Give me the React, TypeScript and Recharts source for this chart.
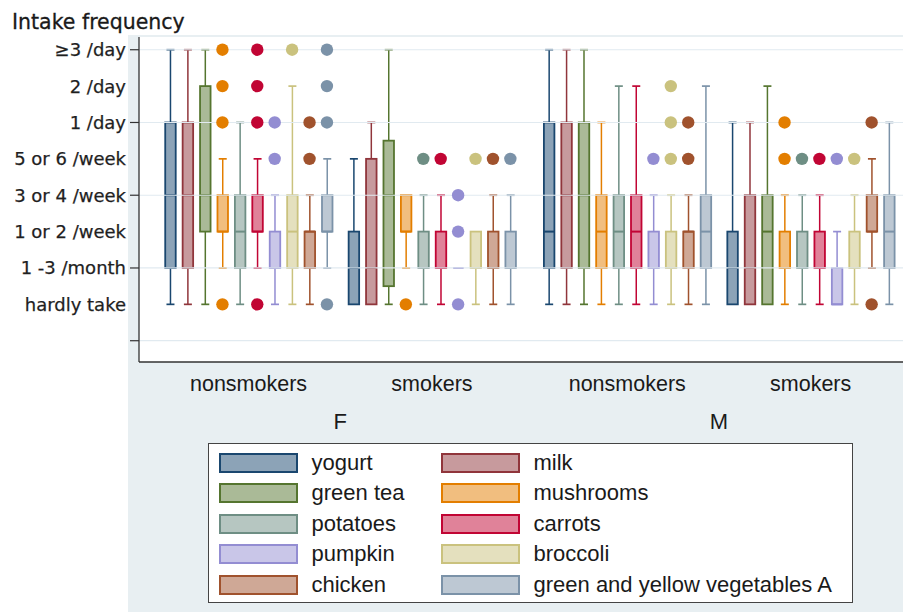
import React from 'react';
import { ComposedChart, Bar, Scatter, XAxis, YAxis, ReferenceLine, ReferenceArea } from 'recharts';

// ---------- data ----------
const items = [
  'yogurt', 'milk', 'green tea', 'mushrooms', 'potatoes',
  'carrots', 'pumpkin', 'broccoli', 'chicken', 'green and yellow vegetables A',
];
const smokingLabels = ['nonsmokers', 'smokers', 'nonsmokers', 'smokers'];
const sexLabels = ['F', 'M'];
const levelLabels = ['', 'hardly take', '1 -3 /month', '1 or 2 /week', '3 or 4 /week', '5 or 6 /week', '1 /day', '2 /day', '\u22653 /day'];
const yTicks = [0, 1, 2, 3, 4, 5, 6, 7, 8];
const gridLevels = [0, 2, 4, 6, 8];

// [min, q1, median, q3, max] per item
const femaleNonsmokers = [
  [1, 2, 4, 6, 8], [1, 2, 4, 6, 8], [1, 3, 4, 7, 8], [2, 3, 3, 4, 5], [1, 2, 3, 4, 6],
  [2, 3, 3, 4, 5], [1, 2, 2, 3, 4], [1, 2, 3, 4, 7], [1, 2, 3, 3, 4], [2, 3, 3, 4, 5],
];
const femaleNonsmokersOutliers = [[], [], [], [8, 7, 6, 1], [], [8, 7, 6, 1], [6, 5], [8], [6, 5], [8, 7, 6, 1]];

const femaleSmokers = [
  [1, 1, 2, 3, 5], [1, 1, 2, 5, 6], [1, 1.5, 4, 5.5, 8], [2, 3, 3, 4, 4], [1, 2, 2, 3, 4],
  [1, 2, 2, 3, 4], [2, 2, 2, 2, 2], [1, 2, 2, 3, 3], [1, 2, 2, 3, 4], [1, 2, 2, 3, 4],
];
const femaleSmokersOutliers = [[], [], [], [1], [5], [5], [4, 3, 1], [5], [5], [5]];

const maleNonsmokers = [
  [1, 2, 3, 6, 8], [1, 2, 4, 6, 8], [1, 2, 4, 6, 8], [1, 2, 3, 4, 6], [1, 2, 3, 4, 7],
  [1, 2, 3, 4, 7], [1, 2, 2, 3, 4], [1, 2, 2, 3, 4], [1, 2, 3, 3, 4], [1, 2, 3, 4, 7],
];
const maleNonsmokersOutliers = [[], [], [], [], [], [], [5], [7, 6, 5], [6, 5], []];

const maleSmokers = [
  [1, 1, 2, 3, 6], [1, 1, 2, 4, 6], [1, 1, 3, 4, 7], [1, 2, 2, 3, 4], [1, 2, 2, 3, 4],
  [1, 2, 2, 3, 4], [1, 1, 1, 2, 3], [1, 2, 2, 3, 4], [2, 3, 3, 4, 5], [1, 2, 3, 4, 6],
];
const maleSmokersOutliers = [[], [], [], [6, 5], [5], [5], [5], [5], [6, 1], []];

// ---------- styles / layout ----------
const lineColors = ['#1a476f', '#90353b', '#55752f', '#e37e00', '#6e8e84', '#c10534', '#938dd2', '#cac27e', '#a0522d', '#7b92a8'];
const fillColors = ['#8ca3b7', '#c79a9d', '#aaba97', '#f1be7f', '#b6c6c1', '#e08299', '#c9c6e8', '#e4e0be', '#cfa896', '#bdc8d3'];
const GROUP_GAPS = [0.53, 1.21, 0.53];
const X_DOMAIN: [number, number] = [-1.79, 42.07];
const Y_DOMAIN: [number, number] = [-0.585, 8.35];
const LABEL_FONT = '"DejaVu Sans", Verdana, sans-serif';
const ARIAL = '"Liberation Sans", Arial, sans-serif';

const groupStats = [femaleNonsmokers, femaleSmokers, maleNonsmokers, maleSmokers];
const groupOutliers = [femaleNonsmokersOutliers, femaleSmokersOutliers, maleNonsmokersOutliers, maleSmokersOutliers];

const groupStart = (g: number) => g * items.length + GROUP_GAPS.slice(0, g).reduce((a, b) => a + b, 0);
const groupCenters = groupStats.map((_, g) => groupStart(g) + (items.length - 1) / 2);
const sexCenters = sexLabels.map((_, s) => (groupCenters[2 * s] + groupCenters[2 * s + 1]) / 2);

const boxData: any[] = [];
const outlierData: any[] = [];
groupStats.forEach((stats, g) => {
  stats.forEach((s, i) => {
    boxData.push({ x: groupStart(g) + i, min: s[0], q1: s[1], med: s[2], q3: s[3], max: s[4], item: i });
    groupOutliers[g][i].forEach((v) => outlierData.push({ x: groupStart(g) + i, y: v, item: i }));
  });
});

const BoxShape = (props: any) => {
  const { x, y, width, height, payload } = props;
  if (x == null || y == null || !payload) return null;
  const top = Math.min(y, y + (height || 0));
  const h = Math.abs(height || 0);
  const { min, q1, med, q3, max, item } = payload;
  const pix = (v: number) => (max === min ? top : top + (h * (max - v)) / (max - min));
  const cx = x + width / 2;
  const stroke = lineColors[item];
  const fill = fillColors[item];
  const half = 5.25;
  const cap = 4;
  return (
    <g>
      {max > q3 && (
        <g>
          <line x1={cx} x2={cx} y1={pix(max)} y2={pix(q3)} stroke={stroke} strokeWidth={1.5} />
          <line x1={cx - cap} x2={cx + cap} y1={pix(max)} y2={pix(max)} stroke={stroke} strokeWidth={1.7} />
        </g>
      )}
      {min < q1 && (
        <g>
          <line x1={cx} x2={cx} y1={pix(q1)} y2={pix(min)} stroke={stroke} strokeWidth={1.5} />
          <line x1={cx - cap} x2={cx + cap} y1={pix(min)} y2={pix(min)} stroke={stroke} strokeWidth={1.7} />
        </g>
      )}
      {q3 > q1 && (
        <rect x={cx - half} y={pix(q3)} width={half * 2} height={pix(q1) - pix(q3)} fill={fill} stroke={stroke} strokeWidth={1.8} />
      )}
      <line x1={cx - half} x2={cx + half} y1={pix(med)} y2={pix(med)} stroke={stroke} strokeWidth={2} />
    </g>
  );
};

const OutlierShape = (props: any) => {
  const { cx, cy, payload } = props;
  if (cx == null || cy == null) return null;
  return <circle cx={cx} cy={cy} r={6.2} fill={lineColors[payload.item]} />;
};

const YTick = (props: any) => {
  const { x, y, payload } = props;
  const v = payload.value;
  return (
    <g>
      {levelLabels[v] ? (
        <text x={x} y={y} dy="0.36em" textAnchor="end" fontFamily={LABEL_FONT} fontSize={18} fill="#1f1f1f" stroke="#1f1f1f" strokeWidth={0.25}>
          {levelLabels[v]}
        </text>
      ) : null}
      {gridLevels.includes(v) ? <line x1={x + 4} x2={x + 13} y1={y} y2={y} stroke="#333" strokeWidth={1.2} /> : null}
    </g>
  );
};

const XTick = (props: any) => {
  const { x, y, payload } = props;
  const gi = groupCenters.findIndex((c) => Math.abs(c - payload.value) < 1e-6);
  if (gi >= 0) {
    return (
      <text x={x} y={y + 29} textAnchor="middle" fontFamily={ARIAL} fontSize={21.5} fill="#1a1a1a">
        {smokingLabels[gi]}
      </text>
    );
  }
  const si = sexCenters.findIndex((c) => Math.abs(c - payload.value) < 1e-6);
  if (si >= 0) {
    return (
      <text x={x} y={y + 67} textAnchor="middle" fontFamily={ARIAL} fontSize={22} fill="#1a1a1a">
        {sexLabels[si]}
      </text>
    );
  }
  return null;
};

export default function App() {
  return (
    <div style={{ position: 'absolute', left: 0, top: 0, width: 903, height: 612, background: '#fff', overflow: 'hidden' }}>
      <div style={{ position: 'absolute', left: 128, top: 35, right: 0, bottom: 0, background: '#e8eff2' }} />
      <div
        style={{ position: 'absolute', left: 12, top: 10, fontFamily: LABEL_FONT, fontSize: 20.5, color: '#1a1a1a', whiteSpace: 'nowrap', lineHeight: '24px', WebkitTextStroke: '0.3px #1a1a1a' }}
      >
        Intake frequency
      </div>
      <div style={{ position: 'absolute', left: 0, top: 0 }}>
        <ComposedChart width={903} height={612} data={boxData} margin={{ top: 37, right: 0, bottom: 180, left: 0 }}>
          <ReferenceArea x1={X_DOMAIN[0]} x2={X_DOMAIN[1]} y1={Y_DOMAIN[0]} y2={Y_DOMAIN[1]} fill="#ffffff" fillOpacity={1} stroke="none" />
          {gridLevels.map((v) => (
            <ReferenceLine key={v} y={v} stroke="#e1eaf0" strokeWidth={1.2} />
          ))}
          <XAxis
            type="number"
            dataKey="x"
            domain={X_DOMAIN}
            allowDataOverflow
            ticks={[...groupCenters, ...sexCenters]}
            interval={0}
            tickLine={false}
            tickSize={0}
            tickMargin={0}
            height={70}
            axisLine={{ stroke: '#333', strokeWidth: 1.3 }}
            tick={<XTick />}
          />
          <YAxis
            type="number"
            domain={Y_DOMAIN}
            allowDataOverflow
            ticks={yTicks}
            interval={0}
            width={139}
            tickLine={false}
            tickSize={0}
            tickMargin={13}
            axisLine={{ stroke: '#333', strokeWidth: 1.3 }}
            tick={<YTick />}
          />
          <Bar dataKey={(d: any) => [d.min, d.max]} barSize={12} isAnimationActive={false} shape={<BoxShape />} />
          <Scatter data={outlierData} dataKey="y" isAnimationActive={false} shape={<OutlierShape />} />
        </ComposedChart>
      </div>
      <div
        style={{ position: 'absolute', left: 208, top: 443, width: 645, height: 160, border: '1.5px solid #444', background: '#fff', boxSizing: 'border-box' }}
      >
        {items.map((name, i) => {
          const col = i % 2;
          const row = Math.floor(i / 2);
          return (
            <div
              key={name}
              style={{ position: 'absolute', left: col ? 231.5 : 9.5, top: 8.5 + row * 30.5, height: 20, display: 'flex', alignItems: 'center' }}
            >
              <div style={{ width: 79, height: 20, boxSizing: 'border-box', border: `2px solid ${lineColors[i]}`, background: fillColors[i] }} />
              <span style={{ marginLeft: 14, fontFamily: ARIAL, fontSize: 22, color: '#1a1a1a', lineHeight: '20px', whiteSpace: 'nowrap' }}>{name}</span>
            </div>
          );
        })}
      </div>
    </div>
  );
}
